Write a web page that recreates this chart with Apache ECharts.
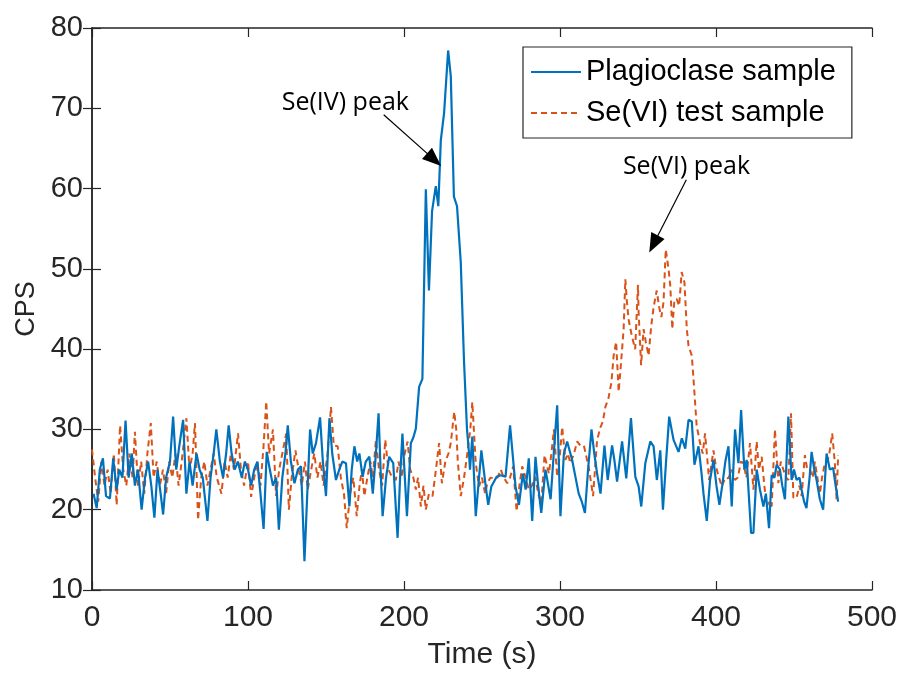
<!DOCTYPE html>
<html>
<head>
<meta charset="utf-8">
<script src="https://cdn.jsdelivr.net/npm/echarts@6/dist/echarts.min.js"></script>
<style>
  html, body { margin: 0; padding: 0; background: #fff; }
  #chart { width: 900px; height: 675px; }
</style>
</head>
<body>
<div id="chart"></div>
<script>
// [time (s), CPS]
var plagioclase = [
  [1,22],[3,20.2],[5,25],[7,26.4],[9,21.7],[11.5,21.4],[13.6,26.4],[15.8,22.5],[17.5,25],[19.5,24],
  [21.5,31.1],[23.5,24],[25.5,27],[27.5,23],[29.5,25],[31.8,20],[34,24],[36,26],[38,23],[40,19],
  [42,25],[44,22],[45.6,19.4],[47.5,24],[50,26],[52,31.6],[54,25],[56,28],[58.4,31.2],[60.5,22],
  [62.5,26],[64.5,23],[67,27],[69,25],[71,24],[74,18.6],[76,24],[78,27],[79.7,30],[82,26],
  [84,24],[86,27],[87.6,30.5],[89.5,27],[91.5,25],[93.5,26],[96,24],[98,26],[100,25],[102,23],
  [104,25],[106,26],[108,22],[110,17.6],[112,27.2],[114,25],[116,23],[118,24],[119.8,17.5],[122,24],
  [124,27],[125.5,30.5],[127.5,26],[129.8,23.3],[132,25],[134,25.4],[136.2,13.6],[138,22],[139.8,30],[141.5,27],
  [143.6,28.3],[146.2,31.5],[148,26],[150,21.7],[152.2,31.4],[154,27],[156.4,23.7],[158.5,25],[160.5,26],[162.8,25.8],
  [165,20.4],[166.5,25],[168.2,27.9],[170,26],[171.4,27],[173.5,24.1],[175.5,26],[177.8,26.6],[180,22],[182,27],
  [183.7,32],[185,25],[186.3,19.2],[188.5,24],[190.5,26.6],[193.1,25.8],[195.9,16.5],[197.5,24],[199,29.5],[201.9,19.2],
  [204.4,28.3],[206,29],[207.6,30.1],[209.7,35.3],[211.8,36.3],[214,59.9],[216,47.3],[218,57.2],[220.4,60.3],[222,57.8],
  [223.6,66],[225.7,69.4],[228.3,77.2],[230,74],[232,59],[234,57.8],[236.4,50.8],[238.5,38.4],[240.4,30],[241.7,27],
  [242.3,25],[243.8,29.1],[246,19.2],[249.6,27.4],[252.4,22.9],[254,20.6],[256,22.9],[259.4,24.1],[262,24.3],[265.1,24.1],
  [268,30.5],[271.5,22.9],[273.7,20.6],[276.2,24.5],[278,22.5],[280,26.4],[282.2,18.6],[284.3,26.6],[286,23],[288,19.6],
  [290.7,25],[292.5,23],[294,21.3],[296,27],[298.2,33],[300.3,19.2],[302.5,27],[304.6,28.5],[307.8,26.2],[310,24],
  [312,22],[314,21],[316,19.6],[318,25],[320.2,30],[322,27],[323.8,24.5],[326,22],[328.5,28],[330.6,23.7],
  [333.4,28],[335,26],[336.6,23.5],[339.8,28.5],[342.5,23.9],[345.5,31.4],[348.3,24.1],[350.4,22.9],[352.1,20.4],[354.7,25.8],
  [357.9,28.5],[360,27.9],[362.1,23.7],[364.3,27.4],[366,20],[368,26],[370,31.6],[372.8,28.7],[376,27.2],[378.1,28.9],
  [380.3,27.6],[382.4,31.2],[384.5,31],[386.2,25.6],[388.8,27.9],[390.5,25],[392,22],[394.1,18.6],[396.2,23.7],[398.4,26.2],
  [400.3,23],[402.2,20.6],[404,23],[406,26],[408,27.9],[410.1,20.4],[412.2,30],[414.4,25.8],[416.1,32.4],[418.2,25],
  [419.7,26.2],[422.5,17.1],[424,17.1],[426.1,25],[428.2,22.5],[430.4,20.4],[432,22],[434,17.7],[435.7,24.3],[437.5,24],
  [438.9,25.6],[441,25],[442.5,23],[444.2,21.3],[446.4,31.6],[448.5,23.7],[450,25],[451.7,23.7],[453.5,24],[454.9,22.5],
  [456.5,21],[458,20.2],[460,24],[461.3,27.2],[463,25],[464.5,23.7],[466.6,21.3],[468.7,20],[470.9,27],[473,25],
  [475.1,25.2],[476.2,23.7],[478.3,21]
];

var seVITest = [
  [0,27.5],[2,24],[4,21],[6,26],[8,23],[10,25],[12,22],[14,27],[15.8,20.6],[18,30.5],
  [20,25],[22,23],[24,27],[26,24],[27.5,29.7],[29.5,23],[31.5,26],[33.5,22],[35.5,27],[37.7,30.8],
  [39.5,24],[41.5,26],[43.5,23],[45.5,25],[47.5,22],[49.5,26],[51.5,24],[53.5,27],[55.5,23],[57.5,26],
  [60.5,31.4],[62.5,25],[64.5,27],[66,30.8],[68,18.7],[70,24],[72,26],[74,23],[76,25],[78,27],
  [80,24],[83,22],[85,26],[87,24],[89,27],[91,25],[93.6,29.5],[95.5,25],[97.5,23],[100,26],
  [102,21.6],[104,24],[106,26],[108,23],[110,28],[111.7,33.5],[113.5,27],[116,30],[118,21.7],[120,25],
  [122,27],[124.5,29.5],[126.2,20],[128,24],[130.4,27.4],[132.5,25],[134.5,23],[136.5,26],[138.3,22.5],[140.5,25],
  [142.5,27],[144.5,24],[146.5,26],[148.5,23],[151,27],[153.2,32.8],[155,28],[157.5,27.9],[159.5,24],[161.5,22],
  [163.3,17.7],[165.5,22],[167.5,24],[169.7,19.2],[171.5,23],[173,25],[174.6,21.7],[176.5,24],[178.5,26],[180,24],
  [182,28.7],[184,25],[186,23],[188,28.7],[190,25],[192.5,24],[194.8,23.7],[196.5,26],[198.5,24],[200.5,27],
  [202.3,28.5],[204,25],[206,24],[207.6,22.5],[209,24],[210.8,20.4],[212.5,23],[214,20],[216,22],[218.3,21.7],
  [220.5,25],[222.5,28.3],[224.3,23.3],[226.5,26],[228.5,27],[230,28.3],[232.2,32.2],[233.5,30],[234.5,26],[236.4,21.7],
  [238.5,24],[240.6,27],[242.5,30],[243.8,33.4],[246,25.8],[248.1,22.9],[250,24],[252,22],[253.4,23.3],[255.5,24],
  [257.7,23.9],[260,24],[262,25],[264,24],[266.2,23.3],[268,24],[270,25.4],[272.2,19.8],[274,23],[275.8,25.4],
  [278,24],[280,22.5],[282,23],[284.3,24.1],[286,22],[288,20.8],[290.1,26.8],[292.9,24.5],[294.5,27],[296.1,30],
  [298.2,24.1],[300,27],[301.4,30.3],[303.5,26.2],[305,27],[306.7,25.8],[309,27],[311,28.5],[313,28],[315.3,28],
  [318.5,25.2],[321.2,21.7],[323.8,28.7],[326,30.3],[327.5,31],[329.1,32.8],[331,33.8],[333,35.9],[334.4,39.2],[336,40.9],
  [337.6,34.7],[338.7,37.2],[340.8,42.5],[341.9,48.7],[342.9,45.9],[344,43.7],[346,41.7],[348.2,40],[350,48],[350.4,44.6],
  [352,38],[353.6,42.5],[355,40.9],[356.8,39.2],[358.5,42.9],[360,45.2],[362,47.3],[363.6,45.2],[365,44],[366.4,45.9],
  [367.8,52.4],[369.6,50],[370.7,47.9],[372,42.5],[373.4,46.2],[374.9,46.2],[376.4,45.4],[378,49.6],[379.8,48.3],[381.3,42.5],
  [382.4,40.4],[384.5,39.2],[385.6,36.3],[386.6,33.4],[387.6,30.5],[389.8,28.3],[391.5,27],[393,29.5],[395.6,23.7],[398.4,27.4],
  [399.9,25.4],[402,24],[403.7,22.9],[406,24],[408,23.9],[410,25],[412.2,23.7],[414,24],[416,26],[417.6,25.8],
  [419.5,24],[421.8,28.3],[424,22.5],[426.1,28.5],[427.5,25],[429.3,26.6],[431,23],[432.5,20.4],[434,21],[435.7,20.4],
  [437.8,30],[440,23.3],[441.5,26],[443.2,25],[445,24],[446.4,23.7],[448.1,32],[449.6,21.5],[451.7,21.5],[453.5,23],
  [454.9,21.7],[457,26.8],[458.5,25],[460.2,25],[462,24],[463.4,26],[465,24],[466.6,22],[468,24],[469.8,25.8],
  [471.5,26],[473,27.4],[474.5,29.5],[476.2,25.8],[477.3,21.3],[478.3,26.8]
];

// annotation arrows: [from, to] in data coords
var seIVArrow = [[187, 69.2], [219.3, 63.6]];
var seVIArrow = [[381, 61.1], [360, 53.1]];
// annotation text centres
var seIVLabel = [162.4, 70.7];
var seVILabel = [381.1, 62.7];

var axisColor = '#262626';
var tickFont = { fontFamily: 'Liberation Sans, Arial, sans-serif', fontSize: 29, color: '#262626' };

function arrowLine(a) {
  return {
    silent: true,
    symbol: ['none', 'triangle'],
    symbolSize: [15, 19],
    label: { show: false },
    lineStyle: { color: '#000', width: 1.2, type: 'solid' },
    emphasis: { disabled: true },
    data: [[{ coord: a[0] }, { coord: a[1] }]]
  };
}

var chart = echarts.init(document.getElementById('chart'));
var option = {
  animation: false,
  backgroundColor: '#fff',
  grid: { left: 92, right: 26, top: 28, bottom: 83, show: false },
  legend: {
    orient: 'vertical',
    left: 523,
    top: 47,
    padding: [8, 16, 8, 7],
    itemWidth: 50,
    itemHeight: 14,
    itemGap: 7,
    borderColor: axisColor,
    borderWidth: 1.2,
    backgroundColor: '#fff',
    itemStyle: { opacity: 0 },
    textStyle: { fontFamily: 'Liberation Sans, Arial, sans-serif', fontSize: 29, color: '#000', lineHeight: 34 },
    data: ['Plagioclase sample', 'Se(VI) test sample']
  },
  xAxis: [{
    type: 'value', min: 0, max: 500, interval: 100,
    name: 'Time (s)', nameLocation: 'middle', nameGap: 50,
    nameTextStyle: { fontFamily: 'Liberation Sans, Arial, sans-serif', fontSize: 30, color: '#262626' },
    axisLine: { lineStyle: { color: axisColor, width: 1.5 } },
    axisTick: { inside: true, length: 9, lineStyle: { color: axisColor, width: 1.2 } },
    axisLabel: { margin: 13, fontFamily: 'Liberation Sans, Arial, sans-serif', fontSize: 30, color: '#262626' },
    splitLine: { show: false }
  }, {
    type: 'value', min: 0, max: 500, interval: 100, position: 'top',
    axisLine: { lineStyle: { color: axisColor, width: 1.5 } },
    axisTick: { inside: true, length: 9, lineStyle: { color: axisColor, width: 1.2 } },
    axisLabel: { show: false }, splitLine: { show: false }
  }],
  yAxis: [{
    type: 'value', min: 10, max: 80, interval: 10,
    name: 'CPS', nameLocation: 'middle', nameGap: 50,
    nameTextStyle: { fontFamily: 'Liberation Sans, Arial, sans-serif', fontSize: 27, color: '#262626' },
    axisLine: { show: true, lineStyle: { color: axisColor, width: 1.5 } },
    axisTick: { show: true, inside: true, length: 9, lineStyle: { color: axisColor, width: 1.2 } },
    axisLabel: Object.assign({ margin: 9 }, tickFont),
    splitLine: { show: false }
  }, {
    type: 'value', min: 10, max: 80, interval: 10, position: 'right',
    axisLine: { show: true, lineStyle: { color: axisColor, width: 1.5 } },
    axisTick: { show: true, inside: true, length: 9, lineStyle: { color: axisColor, width: 1.2 } },
    axisLabel: { show: false }, splitLine: { show: false }
  }],
  series: [{
    name: 'Plagioclase sample',
    type: 'line',
    symbol: 'none',
    data: plagioclase,
    z: 3,
    itemStyle: { color: '#0072BD' },
    lineStyle: { color: '#0072BD', width: 2.2 },
    markLine: arrowLine(seIVArrow)
  }, {
    name: 'Se(VI) test sample',
    type: 'line',
    symbol: 'none',
    data: seVITest,
    z: 2,
    itemStyle: { color: '#D95319' },
    lineStyle: { color: '#D95319', width: 2, type: [6, 4] },
    markLine: arrowLine(seVIArrow)
  }]
};
chart.setOption(option);

var labelStyle = { fontFamily: 'Open Sans, Noto Sans, sans-serif', fontSize: 25, fill: '#000', align: 'center', verticalAlign: 'middle' };
var p1 = chart.convertToPixel({ gridIndex: 0 }, seIVLabel);
var p2 = chart.convertToPixel({ gridIndex: 0 }, seVILabel);
chart.setOption({
  graphic: [
    { type: 'text', x: p1[0], y: p1[1], style: Object.assign({ text: 'Se(IV) peak' }, labelStyle), z: 10 },
    { type: 'text', x: p2[0], y: p2[1], style: Object.assign({ text: 'Se(VI) peak' }, labelStyle), z: 10 }
  ]
});
</script>
</body>
</html>
